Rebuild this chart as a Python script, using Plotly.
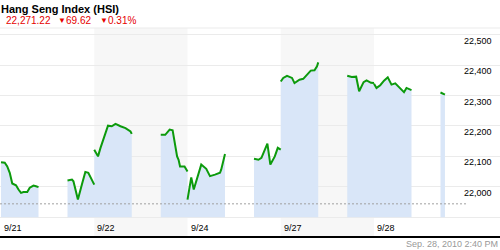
import plotly.graph_objects as go

# ---------------- data ----------------
days = ["9/21", "9/22", "9/24", "9/27", "9/28"]

am_0921_t = ["10:00", "10:15", "10:25", "10:35", "10:45", "11:00", "11:10", "11:20", "11:30", "11:45", "11:55", "12:10", "12:20", "12:30"]
am_0921_v = [22081, 22079, 22067, 22046, 22011, 22005, 21991, 21980, 21983, 21983, 21997, 22004, 22002, 21999]
pm_0921_t = ["14:30", "14:45", "14:50", "15:05", "15:20", "15:30", "15:40", "15:50", "16:00"]
pm_0921_v = [22021, 22024, 22018, 21958, 22013, 22049, 22046, 22027, 22007]

am_0922_t = ["10:00", "10:15", "10:25", "10:45", "10:55", "11:10", "11:25", "11:45", "12:05", "12:25", "12:30"]
am_0922_v = [22122, 22100, 22128, 22177, 22201, 22199, 22207, 22199, 22193, 22182, 22174]
pm_0922_t = ["14:30", "14:45", "15:00", "15:10", "15:25", "15:30", "15:35", "15:45", "15:50", "16:00"]
pm_0922_v = [22171, 22171, 22188, 22186, 22100, 22089, 22067, 22067, 22067, 22050]

am_0924_t = ["10:00", "10:15", "10:25", "10:45", "10:55", "11:15", "11:30", "11:50", "12:10", "12:15", "12:30"]
am_0924_v = [21958, 22031, 21991, 22046, 22073, 22059, 22035, 22040, 22046, 22057, 22108]
pm_0924_t = ["14:30", "14:45", "14:55", "15:15", "15:25", "15:40", "15:50", "16:00"]
pm_0924_v = [22092, 22089, 22095, 22142, 22073, 22100, 22128, 22122]

am_0927_t = ["10:00", "10:10", "10:25", "10:45", "10:55", "11:15", "11:30", "11:45", "12:00", "12:15", "12:25", "12:30"]
am_0927_v = [22346, 22358, 22365, 22358, 22341, 22352, 22355, 22367, 22382, 22383, 22396, 22409]
pm_0927_t = ["14:30", "14:45", "15:00", "15:10", "15:25", "15:35", "15:50", "16:00"]
pm_0927_v = [22365, 22361, 22362, 22314, 22344, 22350, 22342, 22341]

am_0928_t = ["10:00", "10:10", "10:25", "10:40", "10:55", "11:10", "11:25", "11:40", "12:00", "12:10", "12:30"]
am_0928_v = [22339, 22325, 22334, 22349, 22360, 22336, 22340, 22326, 22311, 22325, 22318]
pm_0928_t = ["14:30", "14:45"]
pm_0928_v = [22310, 22303]

prev_close = 21944
y_ticks = [22000, 22100, 22200, 22300, 22400, 22500]
y_tick_labels = ["22,000", "22,100", "22,200", "22,300", "22,400", "22,500"]
fill_base = 21900

title_text = "Hang Seng Index (HSI)"
price_text = "22,271.22"
change_text = "69.62"
pct_text = "0.31%"
stamp_text = "Sep. 28, 2010 2:40 PM"

sessions = [
    (0, am_0921_t, am_0921_v), (0, pm_0921_t, pm_0921_v),
    (1, am_0922_t, am_0922_v), (1, pm_0922_t, pm_0922_v),
    (2, am_0924_t, am_0924_v), (2, pm_0924_t, pm_0924_v),
    (3, am_0927_t, am_0927_v), (3, pm_0927_t, pm_0927_v),
    (4, am_0928_t, am_0928_v), (4, pm_0928_t, pm_0928_v),
]

# --------------- time -> axis position ---------------
DAY_PX = 93.25
AM_SPAN = 37.5 / DAY_PX
PM_START = 66.5 / DAY_PX


def pos(day, t):
    h, m = map(int, t.split(":"))
    hrs = h + m / 60.0
    if hrs <= 12.5:
        f = (hrs - 10.0) / 2.5 * AM_SPAN
    else:
        f = PM_START + (hrs - 14.5) / 1.5 * (1.0 - PM_START)
    return day + f


sess_xy = [([pos(d, t) for t in ts], list(vs)) for d, ts, vs in sessions]

GREEN = "#0c9a0c"
BLUE = "#d9e6f8"
SHADE = "#f7f7f7"
GRID = "#ebebeb"

fig = go.Figure()

# fill areas: connected across overnight, broken over lunch
groups = [[0], [1, 2], [3, 4], [5, 6], [7, 8], [9]]
for g in groups:
    xs, ys = [], []
    for i in g:
        xs += sess_xy[i][0]
        ys += sess_xy[i][1]
    px = xs + xs[::-1]
    py = ys + [fill_base] * len(xs)
    fig.add_trace(go.Scatter(x=px, y=py, mode="lines", fill="toself",
                             fillcolor=BLUE, line=dict(width=0),
                             hoverinfo="skip", showlegend=False))

x_min = -1.0 / DAY_PX
x_max = 499.0 / DAY_PX

# previous close dashed line
fig.add_trace(go.Scatter(x=[x_min, len(days)], y=[prev_close, prev_close], mode="lines",
                         line=dict(color="#a0a0a0", width=1, dash="2px,2px"),
                         hoverinfo="skip", showlegend=False))

# price line, broken per session
lx, ly = [], []
for xs, ys in sess_xy:
    lx += xs + [None]
    ly += ys + [None]
fig.add_trace(go.Scatter(x=lx, y=ly, mode="lines", connectgaps=False,
                         line=dict(color=GREEN, width=2), showlegend=False))

# alternating day shading
shapes = []
for i in range(len(days)):
    if i % 2 == 1:
        shapes.append(dict(type="rect", xref="x", yref="paper", x0=i, x1=i + 1, y0=0, y1=1,
                           fillcolor=SHADE, line=dict(width=0), layer="below"))
shapes.append(dict(type="line", xref="paper", yref="paper", x0=0, x1=1, y0=1, y1=1,
                   line=dict(color=GRID, width=1)))

PLOT_TOP = 28
PLOT_BOT = 236
PH = PLOT_BOT - PLOT_TOP


def py_paper(px_y):
    return (PLOT_BOT - px_y) / PH


FONT = "Arial, Liberation Sans, sans-serif"
ann = []
for i, d in enumerate(days):
    ann.append(dict(x=i, xref="x", y=py_paper(227.5), yref="paper", text=d, showarrow=False,
                    xanchor="left", yanchor="middle", xshift=1,
                    font=dict(family=FONT, size=9, color="#000")))
for v, lab in zip(y_ticks, y_tick_labels):
    ann.append(dict(x=494 / 500, xref="paper", y=v, yref="y", text=lab, showarrow=False,
                    xanchor="right", yanchor="middle", yshift=-6,
                    font=dict(family=FONT, size=9, color="#000")))

ann.append(dict(x=0, xref="paper", y=py_paper(9), yref="paper", text="<b>" + title_text + "</b>",
                showarrow=False, xanchor="left", yanchor="middle", xshift=-1,
                font=dict(family=FONT, size=11, color="#000")))
RED = "#e60000"
ann.append(dict(x=4 / 500, xref="paper", y=py_paper(20.8), yref="paper", text=price_text,
                showarrow=False, xanchor="left", yanchor="middle",
                font=dict(family=FONT, size=10, color=RED)))
ann.append(dict(x=56 / 500, xref="paper", y=py_paper(20.3), yref="paper", text="▼",
                showarrow=False, xanchor="left", yanchor="middle",
                font=dict(family=FONT, size=8, color=RED)))
ann.append(dict(x=64 / 500, xref="paper", y=py_paper(20.8), yref="paper", text=change_text,
                showarrow=False, xanchor="left", yanchor="middle",
                font=dict(family=FONT, size=10, color=RED)))
ann.append(dict(x=98 / 500, xref="paper", y=py_paper(20.3), yref="paper", text="▼",
                showarrow=False, xanchor="left", yanchor="middle",
                font=dict(family=FONT, size=8, color=RED)))
ann.append(dict(x=106 / 500, xref="paper", y=py_paper(20.8), yref="paper", text=pct_text,
                showarrow=False, xanchor="left", yanchor="middle",
                font=dict(family=FONT, size=10, color=RED)))
ann.append(dict(x=1, xref="paper", y=py_paper(244), yref="paper", text=stamp_text,
                showarrow=False, xanchor="right", yanchor="middle",
                font=dict(family=FONT, size=9, color="#999999")))

y_min = 22000 - (PLOT_BOT - 186.8) / 0.3042
y_max = 22000 + (186.8 - PLOT_TOP) / 0.3042

fig.update_layout(
    width=500, height=250,
    margin=dict(l=0, r=0, t=PLOT_TOP, b=250 - PLOT_BOT),
    paper_bgcolor="white", plot_bgcolor="white",
    showlegend=False,
    shapes=shapes, annotations=ann,
    xaxis=dict(range=[x_min, x_max], showgrid=False, zeroline=False, showticklabels=False,
               ticks="", showline=True, linecolor="#000", linewidth=2, fixedrange=True),
    yaxis=dict(range=[y_min, y_max], tick0=0, dtick=100, showgrid=True, gridcolor=GRID,
               gridwidth=1, zeroline=False, showticklabels=False, ticks="", showline=False,
               fixedrange=True),
)

fig.write_html("out.html")
